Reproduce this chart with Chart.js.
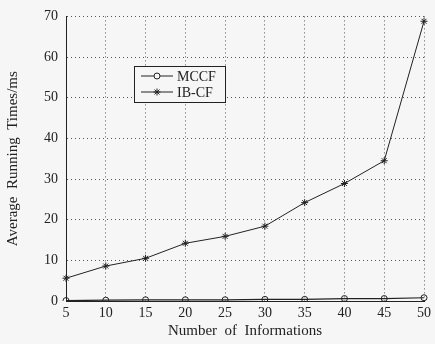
<!DOCTYPE html>
<html>
<head>
<meta charset="utf-8">
<script src="https://cdn.jsdelivr.net/npm/chart.js@4"></script>
<style>
  html, body { margin: 0; padding: 0; background: #fff; }
  #wrap { width: 435px; height: 344px; position: relative; background: #f6f6f6; }
</style>
</head>
<body>
<div id="wrap"><canvas id="c" width="435" height="344"></canvas></div>
<script>
// ── DATA ──
const xLabels = [5, 10, 15, 20, 25, 30, 35, 40, 45, 50];
const mccf    = [0.1, 0.2, 0.3, 0.3, 0.3, 0.4, 0.4, 0.6, 0.6, 0.8];
const ibcf    = [5.6, 8.6, 10.5, 14.2, 15.9, 18.4, 24.2, 28.9, 34.5, 68.8];
const yTicks  = [0, 10, 20, 30, 40, 50, 60, 70];

const FONT = "'Liberation Serif', 'DejaVu Serif', serif";
const INK = '#222';

// legend box inside the plot
const boxLegend = {
  id: 'boxLegend',
  afterDraw(chart) {
    const ctx = chart.ctx;
    const x = 134, y = 66, w = 91, h = 36;
    ctx.save();
    ctx.fillStyle = '#f6f6f6';
    ctx.fillRect(x, y, w, h);
    ctx.strokeStyle = INK; ctx.lineWidth = 1;
    ctx.strokeRect(x + 0.5, y + 0.5, w, h);
    chart.data.datasets.forEach((ds, i) => {
      const ly = y + 10 + i * 16;
      ctx.beginPath(); ctx.moveTo(x + 7, ly); ctx.lineTo(x + 39, ly);
      ctx.strokeStyle = INK; ctx.lineWidth = 1; ctx.stroke();
      Chart.helpers.drawPoint(ctx, {
        pointStyle: ds.pointStyle, radius: ds.pointRadius, borderWidth: 1, rotation: 0
      }, x + 23, ly);
      ctx.fillStyle = INK;
      ctx.font = `14px ${FONT}`;
      ctx.textAlign = 'left'; ctx.textBaseline = 'middle';
      ctx.fillText(ds.label, x + 43, ly + 1);
    });
    ctx.restore();
  }
};

new Chart(document.getElementById('c'), {
  type: 'line',
  data: {
    labels: xLabels,
    datasets: [
      { label: 'MCCF', data: mccf, borderColor: INK, backgroundColor: 'transparent',
        borderWidth: 1.2, pointStyle: 'circle', pointRadius: 3, pointBorderColor: INK, pointBorderWidth: 1, tension: 0 },
      { label: 'IB-CF', data: ibcf, borderColor: INK, backgroundColor: 'transparent',
        borderWidth: 1, pointStyle: 'star', pointRadius: 3.5, pointBorderColor: INK, pointBorderWidth: 1, tension: 0 },
    ]
  },
  options: {
    responsive: false,
    animation: false,
    layout: { padding: { top: 15, right: 4, left: 0, bottom: 0 } },
    plugins: { legend: { display: false }, tooltip: { enabled: false } },
    scales: {
      x: {
        type: 'category',
        offset: false,
        grid: { color: '#555', lineWidth: 1, drawTicks: false },
        border: { color: INK, width: 1, dash: [1, 3] },
        ticks: { color: INK, font: { family: FONT, size: 14 }, padding: 4, maxRotation: 0 },
        title: { display: true, text: 'Number  of  Informations', color: INK, font: { family: FONT, size: 15 }, padding: { top: 2 } },
        afterFit: s => { s.height = 43; }
      },
      y: {
        min: 0, max: 70,
        afterBuildTicks: s => { s.ticks = yTicks.map(v => ({ value: v })); },
        grid: { color: '#555', lineWidth: 1, drawTicks: false },
        border: { color: INK, width: 1, dash: [1, 3] },
        ticks: { color: INK, font: { family: FONT, size: 14 }, padding: 8 },
        title: { display: true, text: 'Average  Running  Times/ms', color: INK, font: { family: FONT, size: 15 }, padding: { bottom: 4 } },
        afterFit: s => { s.width = 66; }
      }
    }
  },
  plugins: [boxLegend]
});
</script>
</body>
</html>
